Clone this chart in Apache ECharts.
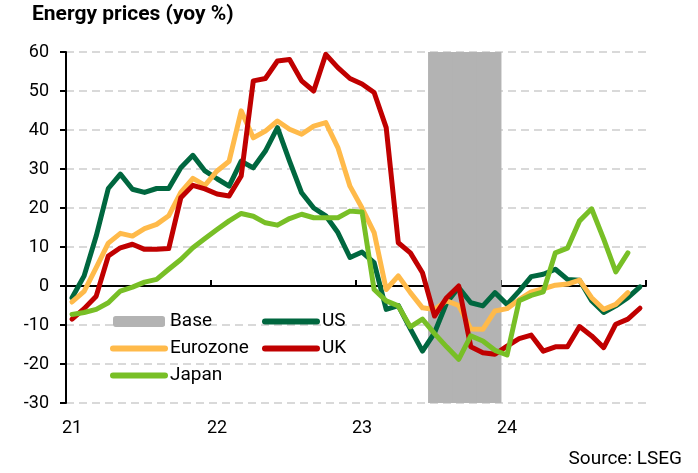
<!DOCTYPE html>
<html>
<head>
<meta charset="utf-8">
<script src="https://cdn.jsdelivr.net/npm/echarts@6/dist/echarts.min.js"></script>
<style>
  html, body { margin: 0; padding: 0; background: #fff; }
  #chart { width: 698px; height: 473px; }
</style>
</head>
<body>
<div id="chart"></div>
<script>
// monthly, Jan 2021 - Dec 2024
const months = [
  'Jan 21', 'Feb 21', 'Mar 21', 'Apr 21', 'May 21', 'Jun 21', 'Jul 21', 'Aug 21', 'Sep 21', 'Oct 21', 'Nov 21', 'Dec 21',
  'Jan 22', 'Feb 22', 'Mar 22', 'Apr 22', 'May 22', 'Jun 22', 'Jul 22', 'Aug 22', 'Sep 22', 'Oct 22', 'Nov 22', 'Dec 22',
  'Jan 23', 'Feb 23', 'Mar 23', 'Apr 23', 'May 23', 'Jun 23', 'Jul 23', 'Aug 23', 'Sep 23', 'Oct 23', 'Nov 23', 'Dec 23',
  'Jan 24', 'Feb 24', 'Mar 24', 'Apr 24', 'May 24', 'Jun 24', 'Jul 24', 'Aug 24', 'Sep 24', 'Oct 24', 'Nov 24', 'Dec 24'
]
const yearLabels = ['21', '22', '23', '24']

const us = [
  -3, 2.6, 12.8, 25, 28.7, 24.8, 24, 25, 25, 30.3, 33.5, 29.5,
  27.5, 25.6, 32, 30.3, 34.6, 40.6, 32, 23.9, 20, 18, 13.7, 7.3,
  8.7, 6, -6, -5, -11, -16.7, -12, -4.3, -0.4, -4.3, -5.1, -1.7,
  -4.7, -1.3, 2.4, 3, 4.3, 1.7, 1.5, -3.8, -6.8, -5.1, -3, -0.2
]
const eurozone = [
  -4.1, -1.4, 4.7, 11, 13.5, 12.8, 14.7, 15.8, 18, 24, 27.6, 25.8,
  29.5, 32, 44.9, 38, 39.7, 42.3, 40.2, 38.9, 41, 41.9, 35.5, 25.6,
  20, 13.7, -0.9, 2.6, -1.7, -5.6, -6, -3.8, -5, -11, -11.1, -6.4,
  -5.8, -3.5, -1.5, -0.7, 0.2, 0.5, 1.5, -3, -6, -4.7, -1.7, null
]
const uk = [
  -8.5, -5.8, -2.6, 7.7, 9.8, 10.7, 9.4, 9.4, 9.6, 22.6, 25.8, 24.9,
  23.6, 23.1, 28.2, 52.6, 53.2, 57.7, 58.1, 52.6, 50, 59.4, 56, 53.2,
  51.8, 49.6, 40.6, 11.1, 8.5, 3.4, -7.7, -3, 0, -15.6, -17.1, -17.5,
  -15.4, -13.5, -12.6, -16.7, -15.6, -15.6, -10.4, -12.8, -15.8, -9.8, -8.5, -5.7
]
const japan = [
  -7.3, -6.8, -6, -4.3, -1.3, -0.3, 1, 1.7, 4.3, 6.8, 9.8, 12.2,
  14.5, 16.7, 18.6, 17.9, 16.2, 15.6, 17.3, 18.4, 17.5, 17.5, 17.5, 19.2,
  19, -0.9, -3.8, -5.1, -10.5, -8.5, -12.2, -15.6, -18.8, -12.8, -14.1, -16.5,
  -17.7, -3.8, -2.4, -1.5, 8.5, 9.7, 16.7, 19.8, 12, 3.6, 8.5, null
]
// base period shading
const baseMonths = ['Jul 23', 'Aug 23', 'Sep 23', 'Oct 23', 'Nov 23', 'Dec 23']
const baseRange = [-30, 60]

const font = 'Roboto, "Open Sans", sans-serif'
const colors = {
  base: '#b3b3b3',
  us: '#00673f',
  eurozone: '#ffba4a',
  uk: '#c00000',
  japan: '#78bf26'
}

const baseTop = months.map(m => (baseMonths.includes(m) ? baseRange[1] : null))
const baseBottom = months.map(m => (baseMonths.includes(m) ? baseRange[0] : null))

const lineSeries = (name, data, color) => ({
  name: name,
  type: 'line',
  data: data,
  symbol: 'none',
  smooth: false,
  connectNulls: false,
  lineStyle: { color: color, width: 5, cap: 'round', join: 'round' },
  itemStyle: { color: color },
  emphasis: { disabled: true }
})

// legend entry for a line: hide the marker, keep the line
const lineItem = name => ({ name: name, itemStyle: { opacity: 0 } })

const legendBase = {
  orient: 'vertical',
  top: 312,
  itemWidth: 52,
  itemHeight: 11,
  itemGap: 8,
  padding: 0,
  selectedMode: false,
  lineStyle: { width: 6, cap: 'round' },
  textStyle: { fontFamily: font, fontSize: 19, color: '#000' }
}

const myChart = echarts.init(document.getElementById('chart'), null, { renderer: 'canvas' })

const option = {
  animation: false,
  textStyle: { fontFamily: font },
  title: {
    text: 'Energy prices (yoy %)',
    left: 32,
    top: 4,
    padding: 0,
    textStyle: { fontFamily: font, fontSize: 21, fontWeight: 'bold', color: '#000' }
  },
  legend: [
    Object.assign({}, legendBase, {
      left: 110,
      data: ['Base', lineItem('Eurozone'), lineItem('Japan')]
    }),
    Object.assign({}, legendBase, {
      left: 262,
      data: [lineItem('US'), lineItem('UK')]
    })
  ],
  grid: {
    left: 66,
    right: 52,
    top: 52,
    bottom: 70,
    outerBoundsMode: 'none'
  },
  xAxis: [
    {
      type: 'category',
      data: months,
      boundaryGap: true,
      axisLine: { show: false, onZero: false },
      axisTick: { show: false },
      axisLabel: {
        interval: 11,
        margin: 16,
        fontFamily: font,
        fontSize: 18,
        color: '#000',
        formatter: (value, index) => yearLabels[Math.floor(index / 12)]
      },
      splitLine: { show: false }
    },
    {
      type: 'value',
      min: 0,
      max: 48,
      interval: 12,
      position: 'bottom',
      axisLine: { show: true, onZero: true, lineStyle: { color: '#000', width: 2 } },
      axisTick: { show: true, inside: true, length: 6, lineStyle: { color: '#000', width: 2 } },
      axisLabel: { show: false },
      splitLine: { show: false }
    }
  ],
  yAxis: {
    type: 'value',
    min: -30,
    max: 60,
    interval: 10,
    axisLine: { show: true, onZero: false, lineStyle: { color: '#000', width: 2 } },
    axisTick: { show: true, length: 6, lineStyle: { color: '#000', width: 2 } },
    axisLabel: { margin: 17, fontFamily: font, fontSize: 18, color: '#000' },
    splitLine: { show: true, lineStyle: { color: '#d9d9d9', width: 2, type: [8, 5] } }
  },
  series: [
    {
      name: 'Base',
      type: 'bar',
      stack: 'base',
      data: baseTop,
      barWidth: 13,
      itemStyle: { color: colors.base },
      silent: true
    },
    {
      name: 'Base',
      type: 'bar',
      stack: 'base',
      data: baseBottom,
      barWidth: 13,
      itemStyle: { color: colors.base },
      silent: true
    },
    lineSeries('US', us, colors.us),
    lineSeries('Eurozone', eurozone, colors.eurozone),
    lineSeries('UK', uk, colors.uk),
    lineSeries('Japan', japan, colors.japan)
  ],
  graphic: [
    {
      type: 'text',
      right: 16,
      top: 450,
      style: { text: 'Source: LSEG', fontFamily: font, fontSize: 19, fill: '#000' }
    }
  ]
}

myChart.setOption(option)
</script>
</body>
</html>
